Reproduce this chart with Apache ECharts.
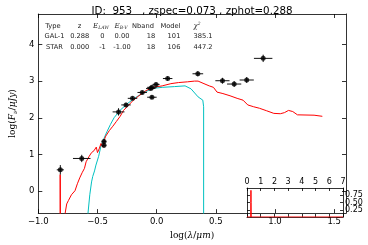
<!DOCTYPE html>
<html><head><meta charset="utf-8">
<script src="https://cdn.jsdelivr.net/npm/echarts@6/dist/echarts.min.js"></script>
<style>html,body{margin:0;padding:0;background:#fff}#c{width:368px;height:245px}</style>
</head><body><div id="c"></div>
<script>
// observed photometry: log(lambda/um), log(Fnu/uJy), x error, y error
const obsX = [-0.814,-0.633,-0.445,-0.445,-0.322,-0.259,-0.204,-0.122,-0.050,-0.040,-0.005,-0.040,0.093,0.348,0.556,0.655,0.761,0.900];
const obsY = [0.58,0.89,1.35,1.25,2.16,2.35,2.53,2.69,2.80,2.83,2.91,2.56,3.07,3.20,3.01,2.92,3.03,3.62];
const obsXerr = [0.03,0.074,0.02,0.02,0.05,0.04,0.04,0.04,0.04,0.04,0.03,0.04,0.04,0.045,0.06,0.06,0.06,0.078];
const obsYerr = [0.13,0.10,0.07,0.07,0.10,0.06,0.05,0.05,0.05,0.05,0.05,0.05,0.06,0.07,0.08,0.08,0.08,0.10];
// galaxy template (red)
const galX = [-0.816,-0.815,-0.812,-0.78,-0.773,-0.76,-0.746,-0.72,-0.69,-0.67,-0.65,-0.63,-0.61,-0.596,-0.57,-0.55,-0.53,-0.51,-0.50,-0.486,-0.47,-0.455,-0.44,-0.43,-0.40,-0.37,-0.34,-0.308,-0.28,-0.25,-0.20,-0.15,-0.09,-0.03,0.047,0.12,0.184,0.26,0.32,0.35,0.40,0.444,0.48,0.51,0.56,0.62,0.68,0.73,0.77,0.82,0.868,0.93,0.99,1.045,1.08,1.114,1.15,1.19,1.33,1.40];
const galY = [-2,0.45,-2,-1.0,-0.6,-0.35,-0.26,-0.1,0.01,0.2,0.36,0.5,0.62,0.8,0.95,1.05,1.1,1.2,1.05,1.15,1.3,1.2,1.42,1.5,1.65,1.77,1.9,2.04,2.2,2.3,2.47,2.6,2.74,2.83,2.87,2.93,2.96,2.98,3.0,3.0,2.93,2.87,2.83,2.7,2.66,2.6,2.53,2.48,2.35,2.3,2.26,2.19,2.12,2.11,2.14,2.2,2.17,2.08,2.07,2.04];
// star template (cyan)
const starX = [-0.585,-0.58,-0.565,-0.55,-0.54,-0.525,-0.513,-0.49,-0.47,-0.45,-0.42,-0.39,-0.36,-0.31,-0.25,-0.17,-0.10,-0.035,0.047,0.15,0.24,0.29,0.35,0.39,0.397,0.397];
const starY = [-1,-0.6,-0.1,0.25,0.4,0.55,0.71,0.95,1.24,1.4,1.62,1.82,2.0,2.2,2.38,2.57,2.7,2.8,2.83,2.85,2.87,2.79,2.57,2.48,2.3,-1];
// redshift PDF (inset)
const pdfZ = [0,0.27,0.285,0.288,0.291,0.31,7];
const pdfP = [0,0,0.5,0.92,0.5,0,0];
// tick labels
const xTicks = [-1.0,-0.5,0.0,0.5,1.0,1.5];
const yTicks = [0,1,2,3,4];
const insetXTicks = [0,1,2,3,4,5,6,7];
const insetYTicks = [0.25,0.50,0.75];
// fit table
const tableHeader = ['Type','z','E_LAW','E_B-V','Nband','Model','chi2'];
const tableRow1 = ['GAL-1','0.288','0','0.00','18','101','385.1'];
const tableRow2 = ['STAR','0.000','-1','-1.00','18','106','447.2'];
const titleText = 'ID:  953   , zspec=0.073 , zphot=0.288';

const F = 'DejaVu Sans';
const chart = echarts.init(document.getElementById('c'));
const zip = (a,b)=>a.map((v,i)=>[v,b[i]]);
const colX = [53,79.5,101,121,143,170.5,197];
const colX2 = [54.5,79.7,102.5,122,151,174,203];
const graphic = [];
const rich = {i:{fontFamily:'DejaVu Serif',fontStyle:'italic',fontSize:7,fill:'#222'},s:{fontFamily:'DejaVu Serif',fontStyle:'italic',fontSize:4.5,fill:'#222',padding:[4,0,0,0]},p:{fontFamily:'DejaVu Serif',fontStyle:'italic',fontSize:4.5,fill:'#222',padding:[0,0,5,0]},n:{fontFamily:F,fontSize:6.7,fill:'#222'}};
tableHeader.forEach((h,i)=>{
  let t = '{n|'+h+'}';
  if (h==='E_LAW') t='{i|E}{s|LAW}';
  else if (h==='E_B-V') t='{i|E}{s|B-V}';
  else if (h==='chi2') t='{i|χ}{p|2}';
  graphic.push({type:'text',x:colX[i],y:26,style:{text:t,fill:'#222',font:'6.7px '+F,rich:rich,align:'center',verticalAlign:'middle'}});
});
[tableRow1,tableRow2].forEach((row,r)=>{
  row.forEach((v,i)=>{
    graphic.push({type:'text',x:colX2[i],y:36.7+r*10.6,style:{text:v,fill:'#222',font:'6.7px '+F,align:'center',verticalAlign:'middle'}});
  });
});

const AL = {onZero:false,lineStyle:{color:'#000',width:0.8}};
const mainTick = {inside:true,length:4,lineStyle:{color:'#000',width:0.8}};
const insetYAxes = insetYTicks.map(v=>({gridIndex:1,type:'value',min:0,max:1,position:'right',
  axisLine:{show:false},axisTick:{show:false},splitLine:{show:false},
  axisLabel:{customValues:[v],formatter:t=>t.toFixed(2),fontFamily:F,fontSize:8,color:'#000',margin:2}}));
const option = {
  animation:false,
  title:{text:titleText,left:187,top:1,textAlign:'center',textStyle:{fontFamily:F,fontSize:10.3,fontWeight:'normal',color:'#000'}},
  graphic:graphic,
  grid:[{left:29,top:14,width:317,height:206,show:false},{left:247,top:188,width:96,height:29,show:false}],
  xAxis:[
    {gridIndex:0,type:'value',min:-1,max:1.6,interval:0.5,position:'bottom',
     axisLine:AL,axisTick:Object.assign({customValues:xTicks},mainTick),
     axisLabel:{customValues:xTicks,formatter:v=>v.toFixed(1).replace('-','−'),fontFamily:F,fontSize:8.5,color:'#000',margin:4},
     splitLine:{show:false},
     name:'{a|log(}{b|λ}{a|/}{b|μm}{a|)}',nameLocation:'middle',nameGap:13,
     nameTextStyle:{rich:{a:{fontFamily:'DejaVu Serif',fontSize:9,color:'#000'},b:{fontFamily:'DejaVu Serif',fontStyle:'italic',fontSize:9,color:'#000'}}}},
    {gridIndex:0,type:'value',min:-1,max:1.6,interval:0.5,position:'top',
     axisLine:AL,axisTick:Object.assign({customValues:xTicks},mainTick),axisLabel:{show:false},splitLine:{show:false}},
    {gridIndex:1,type:'value',min:0,max:7,interval:1,position:'top',
     axisLine:AL,axisTick:{inside:true,length:3,customValues:insetXTicks,lineStyle:{color:'#000',width:0.8}},
     axisLabel:{customValues:insetXTicks,fontFamily:F,fontSize:8,color:'#000',margin:2},splitLine:{show:false}},
    {gridIndex:1,type:'value',min:0,max:7,interval:1,position:'bottom',
     axisLine:AL,axisTick:{inside:true,length:3,customValues:insetXTicks,lineStyle:{color:'#000',width:0.8}},
     axisLabel:{show:false},splitLine:{show:false}}
  ],
  yAxis:[
    {gridIndex:0,type:'value',min:-0.6,max:4.83,position:'left',
     axisLine:Object.assign({show:true},AL),axisTick:Object.assign({show:true,customValues:yTicks},mainTick),
     axisLabel:{customValues:yTicks,fontFamily:F,fontSize:8.5,color:'#000',margin:4},splitLine:{show:false},
     name:'{a|log(}{b|F}{s|ν}{a|/}{b|μJy}{a|)}',nameLocation:'middle',nameGap:15,nameRotate:90,
     nameTextStyle:{rich:{a:{fontFamily:'DejaVu Serif',fontSize:9,color:'#000'},b:{fontFamily:'DejaVu Serif',fontStyle:'italic',fontSize:9,color:'#000'},s:{fontFamily:'DejaVu Serif',fontStyle:'italic',fontSize:6,color:'#000',padding:[5,0,0,0]}}}},
    {gridIndex:0,type:'value',min:-0.6,max:4.83,position:'right',
     axisLine:Object.assign({show:true},AL),axisTick:Object.assign({show:true,customValues:yTicks},mainTick),
     axisLabel:{show:false},splitLine:{show:false}},
    {gridIndex:1,type:'value',min:0,max:1,interval:0.25,position:'right',
     axisLine:Object.assign({show:true},AL),axisTick:{show:true,inside:true,length:3,customValues:insetYTicks,lineStyle:{color:'#000',width:0.8}},
     axisLabel:{show:false},splitLine:{show:false}},
    {gridIndex:1,type:'value',min:0,max:1,interval:0.25,position:'left',
     axisLine:Object.assign({show:true},AL),axisTick:{show:true,inside:true,length:3,customValues:insetYTicks,lineStyle:{color:'#000',width:0.8}},
     axisLabel:{show:false},splitLine:{show:false}}
  ].concat(insetYAxes),
  series:[
    {type:'line',xAxisIndex:0,yAxisIndex:0,data:zip(starX,starY),showSymbol:false,lineStyle:{color:'#00c0c0',width:1},clip:true,z:2},
    {type:'line',xAxisIndex:0,yAxisIndex:0,data:zip(galX,galY),showSymbol:false,lineStyle:{color:'#ff0000',width:1},clip:true,z:3},
    {type:'custom',xAxisIndex:0,yAxisIndex:0,z:4,
     data:obsX.map((x,i)=>[x,obsY[i],obsXerr[i],obsYerr[i]]),
     renderItem:(params,api)=>{
       const x=api.value(0),y=api.value(1),ex=api.value(2),ey=api.value(3);
       const l=api.coord([x-ex,y]),r=api.coord([x+ex,y]),t=api.coord([x,y+ey]),b=api.coord([x,y-ey]);
       const st={stroke:'#111',lineWidth:1};
       return {type:'group',children:[
         {type:'line',shape:{x1:l[0],y1:l[1],x2:r[0],y2:r[1]},style:st},
         {type:'line',shape:{x1:t[0],y1:t[1],x2:b[0],y2:b[1]},style:st}
       ]};
     }},
    {type:'scatter',xAxisIndex:0,yAxisIndex:0,data:zip(obsX,obsY),symbol:'circle',symbolSize:5,itemStyle:{color:'#000'},z:5},
    {type:'line',xAxisIndex:2,yAxisIndex:2,data:zip(pdfZ,pdfP),showSymbol:false,lineStyle:{color:'#ff0000',width:1},z:3}
  ]
};
chart.setOption(option);
</script></body></html>
